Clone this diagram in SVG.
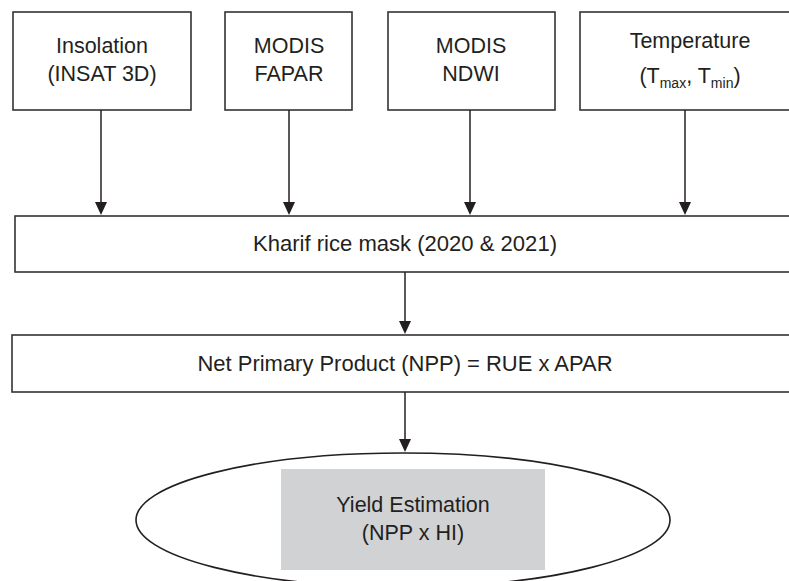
<svg xmlns="http://www.w3.org/2000/svg" width="789" height="581" viewBox="0 0 789 581">
<defs>
<style>
.box{fill:#fff;stroke:#333;stroke-width:1.6}
.t{font-family:"Liberation Sans",Arial,sans-serif;font-size:21.5px;fill:#231f20;text-anchor:middle}
.c{stroke:#231f20;stroke-width:1.5;fill:none}
</style>
<marker id="ah" markerWidth="12" markerHeight="13" refX="6" refY="13" orient="auto-start-reverse" markerUnits="userSpaceOnUse" viewBox="0 0 12 13">
<path d="M0,0 L12,0 L6,13 Z" fill="#231f20" transform="rotate(0)"/>
</marker>
</defs>
<rect width="789" height="581" fill="#fff"/>
<g id="insolation">
<rect class="box" x="13" y="12" width="178" height="98"/>
<text class="t" x="102" y="53">Insolation</text>
<text class="t" x="102" y="81">(INSAT 3D)</text>
</g>
<g id="fapar">
<rect class="box" x="225" y="12" width="127" height="98"/>
<text class="t" x="289" y="53">MODIS</text>
<text class="t" x="289" y="81">FAPAR</text>
</g>
<g id="ndwi">
<rect class="box" x="388" y="12" width="167" height="98"/>
<text class="t" x="471" y="53">MODIS</text>
<text class="t" x="471" y="81">NDWI</text>
</g>
<g id="temperature">
<rect class="box" x="580" y="12" width="215" height="98"/>
<text class="t" x="690" y="48">Temperature</text>
<text class="t" x="690" y="83">(T<tspan font-size="14" dy="5">max</tspan><tspan dy="-5">, T</tspan><tspan font-size="14" dy="5">min</tspan><tspan dy="-5">)</tspan></text>
</g>
<g id="mask">
<rect class="box" x="15" y="216" width="785" height="56"/>
<text class="t" x="405" y="251" font-size="22" textLength="304" lengthAdjust="spacingAndGlyphs">Kharif rice mask (2020 &amp; 2021)</text>
</g>
<g id="npp">
<rect class="box" x="12" y="335" width="788" height="57"/>
<text class="t" x="405" y="371" textLength="415" lengthAdjust="spacingAndGlyphs">Net Primary Product (NPP) = RUE x APAR</text>
</g>
<g id="yield">
<ellipse cx="403" cy="520" rx="267" ry="67" fill="#fff" stroke="#231f20" stroke-width="1.6"/>
<rect x="281" y="469" width="264" height="101" fill="#d1d2d4"/>
<text class="t" x="413" y="512">Yield Estimation</text>
<text class="t" x="413" y="540">(NPP x HI)</text>
</g>
<g id="connectors">
<path class="c" d="M101,110 V203" />
<path d="M95,202 L107,202 L101,215 Z" fill="#231f20"/>
<path class="c" d="M289,110 V203" />
<path d="M283,202 L295,202 L289,215 Z" fill="#231f20"/>
<path class="c" d="M470,110 V203" />
<path d="M464,202 L476,202 L470,215 Z" fill="#231f20"/>
<path class="c" d="M685,110 V203" />
<path d="M679,202 L691,202 L685,215 Z" fill="#231f20"/>
<path class="c" d="M405,272 V322" />
<path d="M399,321 L411,321 L405,334 Z" fill="#231f20"/>
<path class="c" d="M405,392 V440" />
<path d="M399,439 L411,439 L405,452 Z" fill="#231f20"/>
</g>
</svg>
